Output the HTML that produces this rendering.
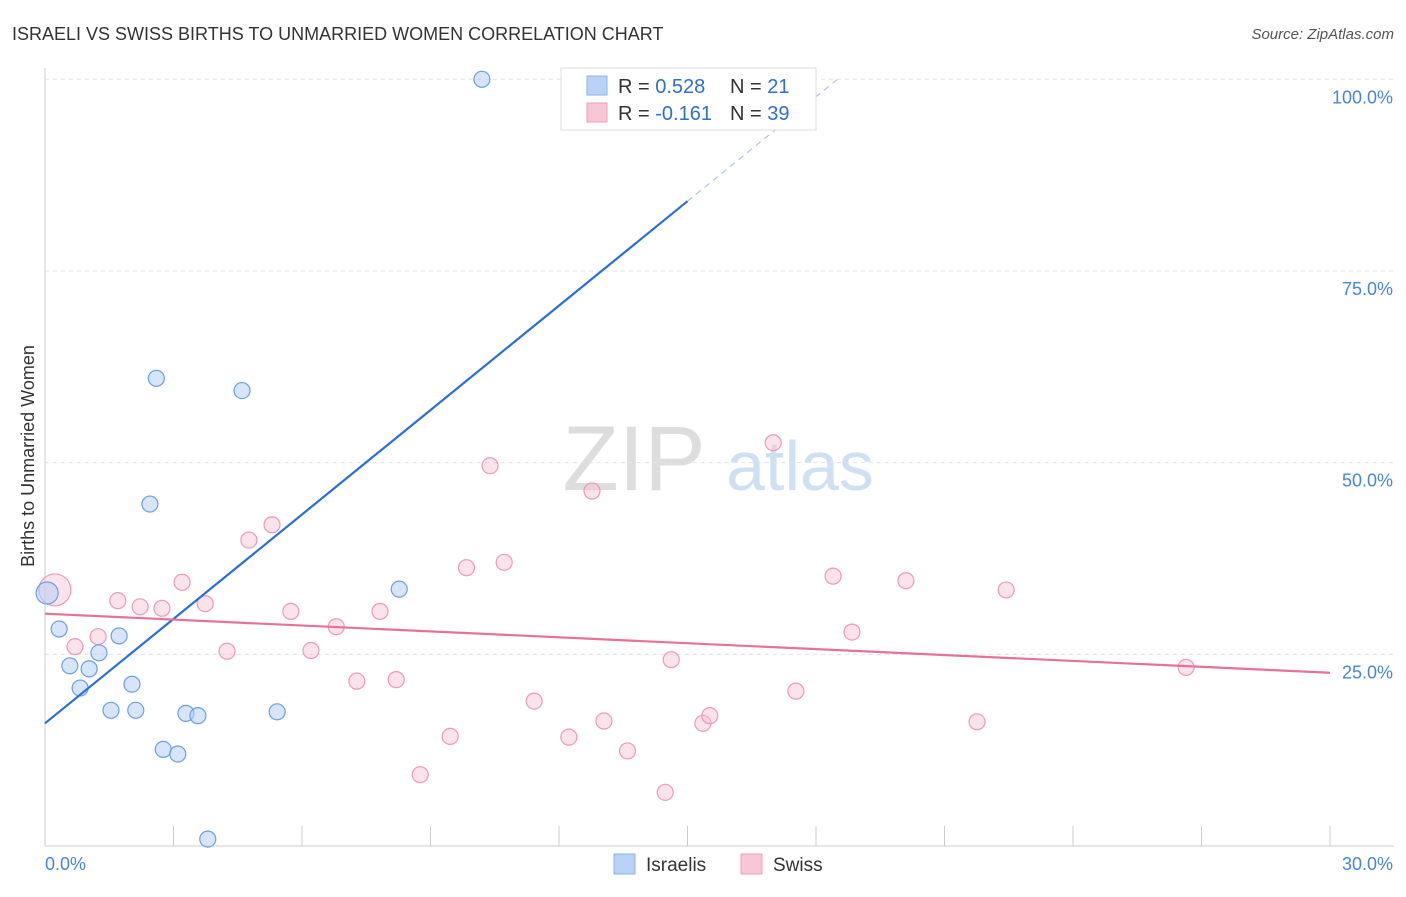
<!DOCTYPE html>
<html><head><meta charset="utf-8"><style>
body{margin:0;background:#fff;font-family:"Liberation Sans",sans-serif;}
svg text{font-family:"Liberation Sans",sans-serif;}
</style></head><body>
<svg id="c" width="1406" height="892" xmlns="http://www.w3.org/2000/svg">
<text x="12" y="40" font-size="18" fill="#333">ISRAELI VS SWISS BIRTHS TO UNMARRIED WOMEN CORRELATION CHART</text>
<text x="1394" y="39" font-size="15" fill="#555" font-style="italic" text-anchor="end">Source: ZipAtlas.com</text>
<text x="634" y="490" font-size="92" fill="#ddd" font-family="Liberation Serif" text-anchor="middle">ZIP</text>
<text x="800" y="490" font-size="70" fill="#cfe0f5" text-anchor="middle">atlas</text>
<text transform="translate(34,456) rotate(-90)" font-size="18" fill="#333" text-anchor="middle">Births to Unmarried Women</text>
<g id="grid"></g><g id="marks"></g>
<g>
<rect x="561" y="68" width="255" height="62" fill="#fff" stroke="#ddd"/>
<rect x="587" y="76" width="20" height="19" fill="#b8d3f5" stroke="#8ab3e8"/>
<rect x="587" y="103" width="20" height="19" fill="#f9c6d6" stroke="#ef9fb9"/>
<text x="618" y="93" font-size="20" fill="#333">R = <tspan fill="#2f6fcf">0.528</tspan></text>
<text x="730" y="93" font-size="20" fill="#333">N = <tspan fill="#2f6fcf"> 21</tspan></text>
<text x="618" y="120" font-size="20" fill="#333">R = <tspan fill="#2f6fcf">-0.161</tspan></text>
<text x="730" y="120" font-size="20" fill="#333">N = <tspan fill="#2f6fcf">39</tspan></text>
</g>
<g>
<rect x="614" y="854" width="21" height="20" fill="#b8d3f5" stroke="#8ab3e8"/>
<text x="646" y="871" font-size="19" fill="#333">Israelis</text>
<rect x="741" y="854" width="21" height="20" fill="#f9c6d6" stroke="#ef9fb9"/>
<text x="773" y="871" font-size="19" fill="#333">Swiss</text>
</g>
</svg>
<script>
const isrX=[10.2,2.6,4.6,2.45,0.05,8.27,0.33,1.73,0.58,1.03,1.26,0.82,2.03,1.54,2.12,3.29,3.57,5.42,2.76,3.1,3.8];
const isrY=[100,61.0,59.4,44.6,33.0,33.5,28.3,27.4,23.5,23.1,25.2,20.6,21.1,17.7,17.7,17.3,17.0,17.5,12.6,12.0,0.9];
const swX=[0.23,0.7,1.24,1.7,2.22,2.73,3.2,3.74,4.25,4.76,5.3,5.74,6.21,6.8,7.28,7.82,8.2,8.76,9.46,9.84,10.39,10.72,11.42,12.23,12.77,13.05,13.6,14.48,14.62,15.36,15.52,17.0,17.53,18.4,18.84,20.1,21.76,22.44,26.64];
const swY=[33.4,26.0,27.3,32.0,31.2,31.0,34.4,31.6,25.4,39.9,41.9,30.6,25.5,28.6,21.5,30.6,21.7,9.3,14.3,36.3,49.6,37.0,18.9,14.2,46.3,16.3,12.4,7.0,24.3,16.0,17.0,52.6,20.2,35.2,27.9,34.6,16.2,33.4,23.3];
const yTicks=[25,50,75,100];
const yTickLabels=["25.0%","50.0%","75.0%","100.0%"];
const xTicks=[0,3,6,9,12,15,18,21,24,27,30];
const isrTrend=[16.0,84.1,100];
const swTrend=[30.3,22.6];
const X=v=>45+v*1285/30, Y=v=>846-v*7.667;
const NS="http://www.w3.org/2000/svg";
function mk(p,t,a){const e=document.createElementNS(NS,t);for(const k in a)e.setAttribute(k,a[k]);p.appendChild(e);return e;}
const g=document.getElementById('grid'),m=document.getElementById('marks');
let ax=mk(g,'line',{x1:45,y1:68,x2:45,y2:846,stroke:'#ccc'});


let bx=mk(g,'line',{x1:45,y1:846,x2:1394,y2:846,stroke:'#ccc'});


yTicks.forEach((t,i)=>{
 const l=mk(g,'line',{x1:45,y1:Y(t),x2:1394,y2:Y(t),stroke:'#e2e2e2','stroke-dasharray':'4,4'});
 
 
 const tx=mk(g,'text',{x:1393,y:Y(t)+24,'font-size':18,fill:'#4a86d8','text-anchor':'end'});
 tx.textContent=yTickLabels[i];
 
 
});
xTicks.forEach(t=>{
 const l=mk(g,'line',{x1:X(t),y1:826,x2:X(t),y2:846,stroke:'#ccc'});
 
 
});
[["0.0%",45,'start'],["30.0%",1393,'end']].forEach(a=>{
 const tx=mk(g,'text',{x:a[1],y:870,'font-size':18,fill:'#4a86d8','text-anchor':a[2]});
 tx.textContent=a[0];
 
 
});
swX.forEach((x,i)=>{
 const c=mk(m,'circle',{cx:X(x),cy:Y(swY[i]),r:i==0?16:8,fill:'rgba(249,190,210,0.45)',stroke:'#eb9ab6','stroke-width':1.2});
 
 
});
isrX.forEach((x,i)=>{
 const c=mk(m,'circle',{cx:X(x),cy:Y(isrY[i]),r:i==4?11:8,fill:'rgba(180,208,245,0.55)',stroke:'#6b9fe0','stroke-width':1.2});
 
 
});
let t1=mk(m,'line',{x1:X(0),y1:Y(isrTrend[0]),x2:X(15),y2:Y(isrTrend[1]),stroke:'#2a6fd6','stroke-width':2.2});


const xe=15+(isrTrend[2]-isrTrend[1])/((isrTrend[1]-isrTrend[0])/15);
let t2=mk(m,'line',{x1:X(15),y1:Y(isrTrend[1]),x2:X(xe),y2:Y(isrTrend[2]),stroke:'#9bb9e6','stroke-width':1,'stroke-dasharray':'6,5'});


let t3=mk(m,'line',{x1:X(0),y1:Y(swTrend[0]),x2:X(30),y2:Y(swTrend[1]),stroke:'#e8709a','stroke-width':2.2});


</script>
</body></html>
